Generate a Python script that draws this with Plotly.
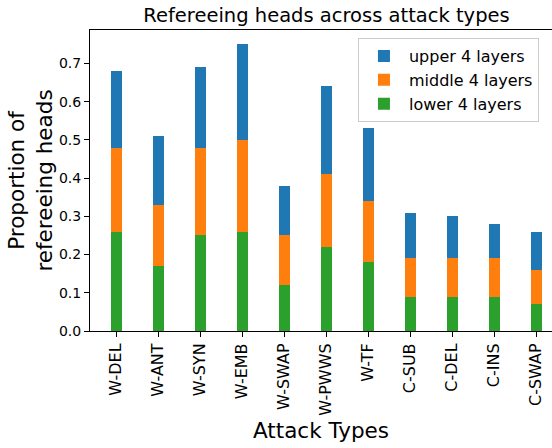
import plotly.graph_objects as go

categories = ["W-DEL", "W-ANT", "W-SYN", "W-EMB", "W-SWAP", "W-PWWS", "W-TF",
              "C-SUB", "C-DEL", "C-INS", "C-SWAP"]
lower = [0.26, 0.17, 0.25, 0.26, 0.12, 0.22, 0.18, 0.09, 0.09, 0.09, 0.07]
middle = [0.22, 0.16, 0.23, 0.24, 0.13, 0.19, 0.16, 0.10, 0.10, 0.10, 0.09]
upper = [0.20, 0.18, 0.21, 0.25, 0.13, 0.23, 0.19, 0.12, 0.11, 0.09, 0.10]
yticks = [0.0, 0.1, 0.2, 0.3, 0.4, 0.5, 0.6, 0.7]

FONT = "DejaVu Sans"
fig = go.Figure()
for name, vals, col in [("lower 4 layers", lower, "#2ca02c"),
                        ("middle 4 layers", middle, "#ff7f0e"),
                        ("upper 4 layers", upper, "#1f77b4")]:
    fig.add_trace(go.Bar(x=categories, y=vals, name=name, width=0.26,
                         marker=dict(color=col, line=dict(width=0))))

fig.update_layout(
    barmode="stack",
    width=552, height=448,
    margin=dict(l=90, r=0, t=30, b=117),
    paper_bgcolor="white", plot_bgcolor="white",
    font=dict(family=FONT, color="black"),
    title=dict(text="Refereeing heads across attack types", x=(90 + 563) / 2 / 552,
               xanchor="center", y=1 - 15 / 448, yanchor="middle",
               font=dict(size=19.5, family=FONT)),
    legend=dict(x=0.58, y=0.973, xanchor="left", yanchor="top",
                traceorder="reversed", bordercolor="#cccccc", borderwidth=1,
                itemwidth=40, tracegroupgap=0,
                bgcolor="rgba(255,255,255,0.8)", font=dict(size=16, family=FONT)),
    showlegend=True,
)
fig.update_xaxes(
    range=[-0.62, 10.38], showline=True, linecolor="black", linewidth=1,
    mirror=True, ticks="outside", ticklen=5, tickcolor="black", automargin=False,
    tickangle=-90, tickfont=dict(size=16, family=FONT), showgrid=False,
    title=dict(text="Attack Types", font=dict(size=21.5, family=FONT), standoff=8),
)
fig.update_yaxes(
    range=[0, 0.7875], showline=True, linecolor="black", linewidth=1,
    ticks="outside", ticklen=5, tickcolor="black", tickvals=yticks, automargin=False,
    ticktext=[f"{v:.1f}" for v in yticks], tickfont=dict(size=14, family=FONT),
    showgrid=False, zeroline=False,
    title=dict(text="Proportion of<br>refereeing heads", font=dict(size=21.5, family=FONT),
               standoff=0),
)
fig.write_html("out.html", config={"displayModeBar": False},
               post_script="document.body.style.margin='0';")
